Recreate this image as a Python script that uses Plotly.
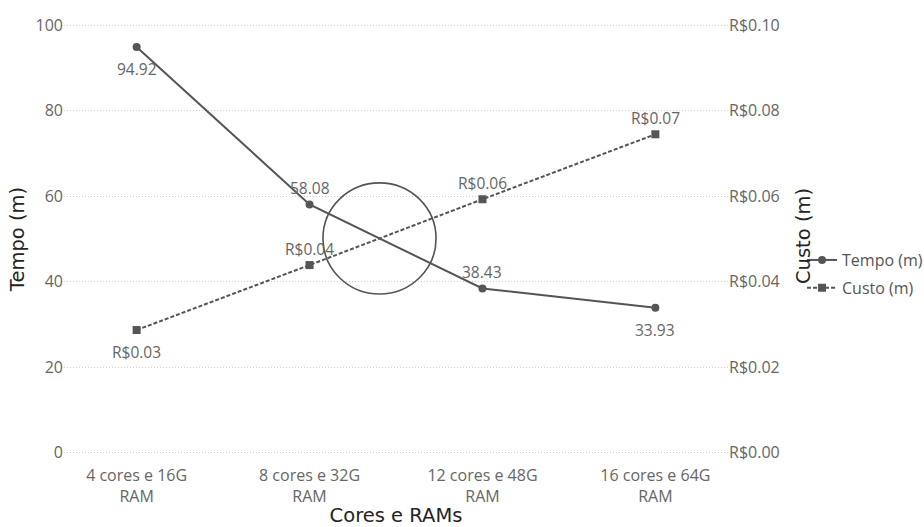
import plotly.graph_objects as go

categories = ["4 cores e 16G<br>RAM", "8 cores e 32G<br>RAM", "12 cores e 48G<br>RAM", "16 cores e 64G<br>RAM"]
tempo = [94.92, 58.08, 38.43, 33.93]
custo = [0.0287, 0.0439, 0.0593, 0.0745]
tempo_above = [False, True, True, False]
custo_above = [False, True, True, True]
tempo_ticks = [0, 20, 40, 60, 80, 100]
custo_ticks = [0, 0.02, 0.04, 0.06, 0.08, 0.10]

x_idx = list(range(len(categories)))
line_col = "#555555"
label_col = "#666666"
base_font = "Segoe UI, Open Sans, sans-serif"
tick_font = dict(family=base_font, size=16, color="#666666")
title_font = dict(family="DejaVu Sans, sans-serif", size=19.5, color="#252423")
lab_font = dict(family=base_font, size=15.5, color=label_col)

fig = go.Figure()
fig.add_trace(go.Scatter(
    x=x_idx, y=tempo, name="Tempo (m)", mode="lines+markers", legendgroup="t",
    line=dict(color=line_col, width=2), marker=dict(symbol="circle", size=8, color=line_col),
    yaxis="y"))
fig.add_trace(go.Scatter(
    x=x_idx, y=custo, name="Custo (m)", mode="lines+markers", legendgroup="c",
    line=dict(color=line_col, width=2, dash="4px,2px"), marker=dict(symbol="square", size=8, color=line_col),
    yaxis="y2"))

for xi, v, up in zip(x_idx, tempo, tempo_above):
    fig.add_annotation(x=xi, y=v, xref="x", yref="y", text=f"{v:.2f}", showarrow=False,
                       yshift=16 if up else -22, font=lab_font)
for xi, v, up in zip(x_idx, custo, custo_above):
    fig.add_annotation(x=xi, y=v, xref="x", yref="y2", text=f"R${v:.2f}", showarrow=False,
                       yshift=16 if up else -22, font=lab_font)

# right axis title
fig.add_annotation(x=1.1145, y=0.507, xref="paper", yref="paper", text="Custo (m)", textangle=-90,
                   showarrow=False, font=title_font, xanchor="center", yanchor="middle")

# highlight circle around the crossing of the two lines (between categories 1 and 2)
scale = 100 / 0.1
a0, a1 = tempo[1], tempo[2]
b0, b1 = custo[1] * scale, custo[2] * scale
t = (a0 - b0) / ((a0 - b0) - (a1 - b1))
cx = 1 + t
cy = a0 + (a1 - a0) * t
rx, ry = 0.327, 13.0
fig.add_shape(type="circle", xref="x", yref="y", x0=cx - rx, x1=cx + rx, y0=cy - ry, y1=cy + ry,
              line=dict(color=line_col, width=1.6))

fig.update_layout(
    width=924, height=527,
    margin=dict(l=64, r=196, t=24, b=73, autoexpand=False),
    paper_bgcolor="white", plot_bgcolor="white",
    showlegend=True,
    legend=dict(xref="container", yref="container", x=0.868, y=0.480, xanchor="left", yanchor="middle",
                font=dict(family=base_font, size=16, color="#555555"),
                tracegroupgap=4, itemwidth=30),
    xaxis=dict(tickmode="array", tickvals=x_idx, ticktext=categories, range=[-0.42, 3.42],
               showgrid=False, zeroline=False, showline=False, tickfont=tick_font, automargin=False,
               ticklabelstandoff=10,
               title=dict(text="Cores e RAMs", font=title_font, standoff=2)),
    yaxis=dict(range=[-0.3, 100.3], tickmode="array", tickvals=tempo_ticks,
               ticktext=[str(v) for v in tempo_ticks], showgrid=True, gridcolor="#cfcfcf",
               griddash="1px,2px", gridwidth=1, automargin=False,
               zeroline=False, showline=False, tickfont=tick_font,
               title=dict(text="Tempo (m)", font=title_font, standoff=5)),
    yaxis2=dict(range=[-0.0003, 0.1003], tickmode="array", tickvals=custo_ticks,
                ticktext=[f"R${v:.2f}" for v in custo_ticks], overlaying="y", side="right",
                showgrid=False, automargin=False,
                zeroline=False, showline=False, tickfont=tick_font),
)

fig.write_html("out.html", config={"displayModeBar": False},
               post_script="document.body.style.margin='0';document.body.style.padding='0';")
